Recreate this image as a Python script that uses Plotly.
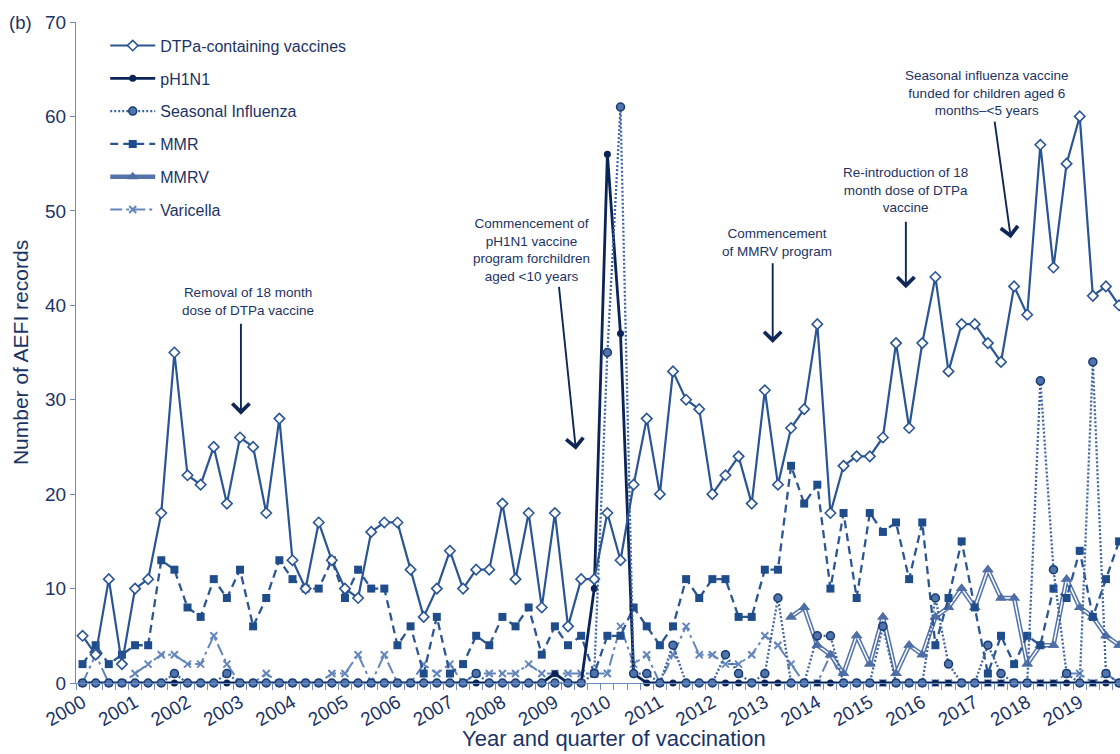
import plotly.graph_objects as go

# Quarterly AEFI record counts, 2000 Q1 – 2019 Q4 (one value per quarter)
years = list(range(2000, 2020))
quarters = list(range(len(years) * 4))

dtpa = [5, 3, 11, 2, 10, 11, 18, 35, 22, 21, 25, 19, 26, 25, 18, 28,
        13, 10, 17, 13, 10, 9, 16, 17, 17, 12, 7, 10, 14, 10, 12, 12,
        19, 11, 18, 8, 18, 6, 11, 11, 18, 13, 21, 28, 20, 33, 30, 29,
        20, 22, 24, 19, 31, 21, 27, 29, 38, 18, 23, 24, 24, 26, 36, 27,
        36, 43, 33, 38, 38, 36, 34, 42, 39, 57, 44, 55, 60, 41, 42, 40]

ph1n1 = [0, 0, 0, 0, 0, 0, 0, 0, 0, 0, 0, 0, 0, 0, 0, 0,
         0, 0, 0, 0, 0, 0, 0, 0, 0, 0, 0, 0, 0, 0, 0, 0,
         0, 0, 0, 0, 1, 0, 0, 10, 56, 37, 1, 0, 0, 0, 0, 0,
         0, 0, 0, 0, 0, 0, 0, 0, 0, 0, 0, 0, 0, 0, 0, 0,
         0, 0, 0, 0, 0, 0, 0, 0, 0, 0, 0, 0, 0, 0, 0, 0]

seasonal = [0, 0, 0, 0, 0, 0, 0, 1, 0, 0, 0, 1, 0, 0, 0, 0,
            0, 0, 0, 0, 0, 0, 0, 0, 0, 0, 0, 0, 0, 0, 1, 0,
            0, 0, 0, 0, 0, 0, 0, 1, 35, 61, 1, 1, 0, 4, 0, 0,
            0, 3, 1, 0, 1, 9, 0, 0, 5, 5, 0, 0, 0, 6, 0, 0,
            0, 9, 2, 0, 0, 4, 1, 0, 0, 32, 12, 1, 0, 34, 1, 0]

mmr = [2, 4, 2, 3, 4, 4, 13, 12, 8, 7, 11, 9, 12, 6, 9, 13,
       11, 10, 10, 13, 9, 12, 10, 10, 4, 6, 1, 7, 1, 2, 5, 4,
       7, 6, 8, 3, 6, 4, 5, 1, 5, 5, 8, 6, 4, 6, 11, 9,
       11, 11, 7, 7, 12, 12, 23, 19, 21, 10, 18, 9, 18, 16, 17, 11,
       17, 4, 9, 15, 8, 1, 5, 2, 5, 4, 10, 9, 14, 7, 11, 15]

mmrv = [None, None, None, None, None, None, None, None, None, None, None, None, None, None, None, None,
        None, None, None, None, None, None, None, None, None, None, None, None, None, None, None, None,
        None, None, None, None, None, None, None, None, None, None, None, None, None, None, None, None,
        None, None, None, None, None, None, 7, 8, 4, 3, 1, 5, 2, 7, 1, 4,
        3, 7, 8, 10, 8, 12, 9, 9, 2, 4, 4, 11, 8, 7, 5, 4]

varicella = [0, 3, 0, 0, 1, 2, 3, 3, 2, 2, 5, 2, 0, 0, 1, 0,
             0, 0, 0, 1, 1, 3, 0, 3, 0, 0, 2, 1, 2, 0, 1, 1,
             1, 1, 2, 1, 1, 1, 1, 1, 1, 6, 2, 3, 0, 3, 6, 3,
             3, 2, 2, 3, 5, 4, 2, 0, 0, 3, 0, 0, 0, 0, 0, 0,
             0, 0, 0, 0, 0, 0, 0, 0, 0, 0, 0, 1, 1, 0, 1, 0]

year_ticks = [4 * i for i in range(len(years))]
year_labels = [str(y) for y in years]

TEXT = '#1c3365'
AXIS = '#6d8bc0'
ARROW = '#0f2756'
FONT = 'Liberation Sans, Arial, sans-serif'

fig = go.Figure()

common = dict(x=quarters, cliponaxis=False, hoverinfo='x+y+name')

# Varicella: long-dash-dot line with x markers
fig.add_trace(go.Scatter(
    y=varicella, name='Varicella', mode='lines+markers', legendrank=6, legendgroup='g6',
    line=dict(color='#6385bc', width=2, dash='12px,4px,3px,4px'),
    marker=dict(symbol='x-thin-open', size=7, color='#6385bc', line=dict(width=2, color='#6385bc')),
    **common))

# MMRV: double line (wide coloured stroke with a white core) and triangles
fig.add_trace(go.Scatter(
    y=mmrv, name='MMRV', mode='lines+markers', legendrank=5, legendgroup='g5',
    line=dict(color='#5574aa', width=4.6),
    marker=dict(symbol='triangle-up', size=10, color='#4f6ea6'),
    **common))
fig.add_trace(go.Scatter(
    y=mmrv, name='MMRV', mode='lines', showlegend=False, legendgroup='g5',
    line=dict(color='white', width=1.5), hoverinfo='skip', x=quarters, cliponaxis=False))
fig.add_trace(go.Scatter(
    y=mmrv, name='MMRV', mode='markers', showlegend=False, legendgroup='g5',
    marker=dict(symbol='triangle-up', size=10, color='#4f6ea6'),
    **common))

# MMR: dashed line with filled squares
fig.add_trace(go.Scatter(
    y=mmr, name='MMR', mode='lines+markers', legendrank=4, legendgroup='g4',
    line=dict(color='#2b5693', width=2.3, dash='8px,5px'),
    marker=dict(symbol='square', size=8, color='#1f4c8b'),
    **common))

# pH1N1: heavy solid navy line
fig.add_trace(go.Scatter(
    y=ph1n1, name='pH1N1', mode='lines+markers', legendrank=2, legendgroup='g2',
    line=dict(color='#0b2457', width=2.8),
    marker=dict(symbol='circle', size=7, color='#0b2457'),
    **common))

# Seasonal influenza: dotted line, circles
fig.add_trace(go.Scatter(
    y=seasonal, name='Seasonal Influenza', mode='lines+markers', legendrank=3, legendgroup='g3',
    line=dict(color='#3e65a2', width=2.3, dash='2px,2px'),
    marker=dict(symbol='circle', size=8, color='#4f73aa', line=dict(width=1.5, color='#163a72')),
    **common))

# DTPa-containing vaccines: solid line, open diamonds
fig.add_trace(go.Scatter(
    y=dtpa, name='DTPa-containing vaccines', mode='lines+markers', legendrank=1, legendgroup='g1',
    line=dict(color='#2a5593', width=2.2),
    marker=dict(symbol='diamond', size=8, color='white', line=dict(width=1.6, color='#2a5593')),
    **common))

# Programme notes with arrows (text, then arrow from tail to tip)
notes = [
    dict(text='Removal of 18 month<br>dose of DTPa vaccine', x=12.6, y=40.4,
         tail=(12.07, 38.2), tip=(12.07, 28.4)),
    dict(text='Commencement of<br>pH1N1 vaccine<br>program forchildren<br>aged <10 years', x=34.2, y=45.9,
         tail=(36.3, 42.1), tip=(37.6, 24.7)),
    dict(text='Commencement<br>of MMRV program', x=52.9, y=46.65,
         tail=(52.6, 44.6), tip=(52.6, 36.0)),
    dict(text='Re-introduction of 18<br>month dose of DTPa<br>vaccine', x=62.7, y=52.2,
         tail=(62.75, 49.0), tip=(62.75, 41.8)),
    dict(text='Seasonal influenza vaccine<br>funded for children aged 6<br>months–<5 years', x=68.9, y=62.5,
         tail=(69.5, 59.6), tip=(70.75, 47.1)),
]
annotations = []
for n in notes:
    annotations.append(dict(text=n['text'], x=n['x'], y=n['y'], xref='x', yref='y',
                            showarrow=False, xanchor='center', yanchor='middle',
                            font=dict(family=FONT, size=13.5, color=TEXT)))
    annotations.append(dict(text='', x=n['tip'][0], y=n['tip'][1], ax=n['tail'][0], ay=n['tail'][1],
                            xref='x', yref='y', axref='x', ayref='y', showarrow=True,
                            arrowhead=4, arrowsize=1.75, arrowwidth=1.9, arrowcolor=ARROW))

annotations.append(dict(text='(b)', x=-0.053, y=1.0, xref='paper', yref='paper', showarrow=False,
                        xanchor='center', yanchor='middle', font=dict(family=FONT, size=18.5, color=TEXT)))
annotations.append(dict(text='Year and quarter of vaccination', x=0.515, y=-0.1055, xref='paper', yref='paper',
                        showarrow=False, xanchor='center', yanchor='bottom',
                        font=dict(family=FONT, size=22, color=TEXT)))

fig.update_layout(
    width=1120, height=754,
    margin=dict(l=76, r=0, t=22, b=71),
    paper_bgcolor='white', plot_bgcolor='white',
    font=dict(family=FONT, color=TEXT),
    showlegend=True,
    legend=dict(x=0.028, y=0.99, xanchor='left', yanchor='top',
                font=dict(family=FONT, size=16, color=TEXT),
                bgcolor='rgba(0,0,0,0)', traceorder='grouped', tracegroupgap=9,
                itemwidth=45),
    annotations=annotations,
    xaxis=dict(range=[-0.5, 79.07], tickmode='array', tickvals=year_ticks, ticktext=year_labels,
               tickangle=-30, ticks='', showline=True, linecolor=AXIS, linewidth=1.3,
               tickfont=dict(family=FONT, size=19, color=TEXT), showgrid=False, zeroline=False,
               minor=dict(tickmode='array', tickvals=[q - 0.5 for q in quarters] + [79.5],
                          ticks='outside', ticklen=6, tickcolor=AXIS, tickwidth=1.2)),
    yaxis=dict(range=[0, 70], dtick=10, ticks='outside', ticklen=5, tickcolor=AXIS,
               showline=True, linecolor=AXIS, linewidth=1.3, showgrid=False, zeroline=False,
               tickfont=dict(family=FONT, size=19, color=TEXT),
               title=dict(text='Number of AEFI records', font=dict(family=FONT, size=21, color=TEXT),
                          standoff=10)),
)

fig.write_html('out.html')
